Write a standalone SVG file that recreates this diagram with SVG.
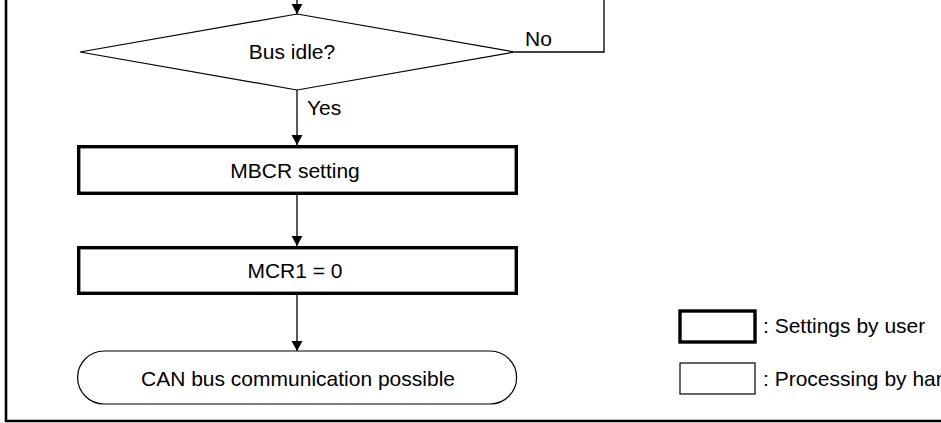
<svg xmlns="http://www.w3.org/2000/svg" width="941" height="423" viewBox="0 0 941 423">
  <style>
    text { font-family: "Liberation Sans", Arial, sans-serif; font-size: 21px; fill: #000; }
    .mid { text-anchor: middle; }
    .user { fill: #fff; stroke: #000; stroke-width: 3.4; }
    .hw { fill: #fff; stroke: #000; stroke-width: 1.2; }
    .flow { fill: none; stroke: #000; stroke-width: 1.3; }
    .frame { fill: none; stroke: #000; stroke-width: 2.6; }
  </style>
  <defs>
    <marker id="arrow" markerUnits="userSpaceOnUse" markerWidth="11" markerHeight="14" refX="10" refY="5.5" orient="auto">
      <path d="M0,0 L10,5.5 L0,11 Z" fill="#000"/>
    </marker>
  </defs>

  <!-- outer frame (left and bottom edges) -->
  <path class="frame" d="M6,0 V421 H941"/>

  <!-- connectors -->
  <g id="connectors">
    <line class="flow" x1="297" y1="0" x2="297" y2="14" marker-end="url(#arrow)"/>
    <polyline class="flow" points="515,52 604,52 604,0"/>
    <line class="flow" x1="297" y1="90" x2="297" y2="145" marker-end="url(#arrow)"/>
    <line class="flow" x1="297" y1="195" x2="297" y2="246" marker-end="url(#arrow)"/>
    <line class="flow" x1="297" y1="295" x2="297" y2="351" marker-end="url(#arrow)"/>
    <text x="525" y="45.5">No</text>
    <text x="307" y="115">Yes</text>
  </g>

  <!-- decision -->
  <g id="bus-idle">
    <polygon class="hw" points="297,14 515,52 297,90 80,52"/>
    <text class="mid" x="292" y="59">Bus idle?</text>
  </g>

  <!-- user settings -->
  <g id="mbcr-setting">
    <rect class="user" x="78.7" y="146.7" width="437.6" height="46.6"/>
    <text class="mid" x="295" y="177.5">MBCR setting</text>
  </g>

  <g id="mcr1-clear">
    <rect class="user" x="78.7" y="247.7" width="437.6" height="45.6"/>
    <text class="mid" x="295" y="278">MCR1 = 0</text>
  </g>

  <!-- terminal -->
  <g id="can-ready">
    <rect class="hw" x="77.6" y="351" width="439" height="53" rx="26.5" ry="26.5"/>
    <text class="mid" x="298" y="385.5">CAN bus communication possible</text>
  </g>

  <!-- legend -->
  <g id="legend-user">
    <rect class="user" x="680" y="311" width="75" height="31"/>
    <text x="763" y="332.5">: Settings by user</text>
  </g>
  <g id="legend-hw">
    <rect class="hw" x="680" y="363" width="75" height="31"/>
    <text x="763" y="386">: Processing by har</text>
  </g>
</svg>
